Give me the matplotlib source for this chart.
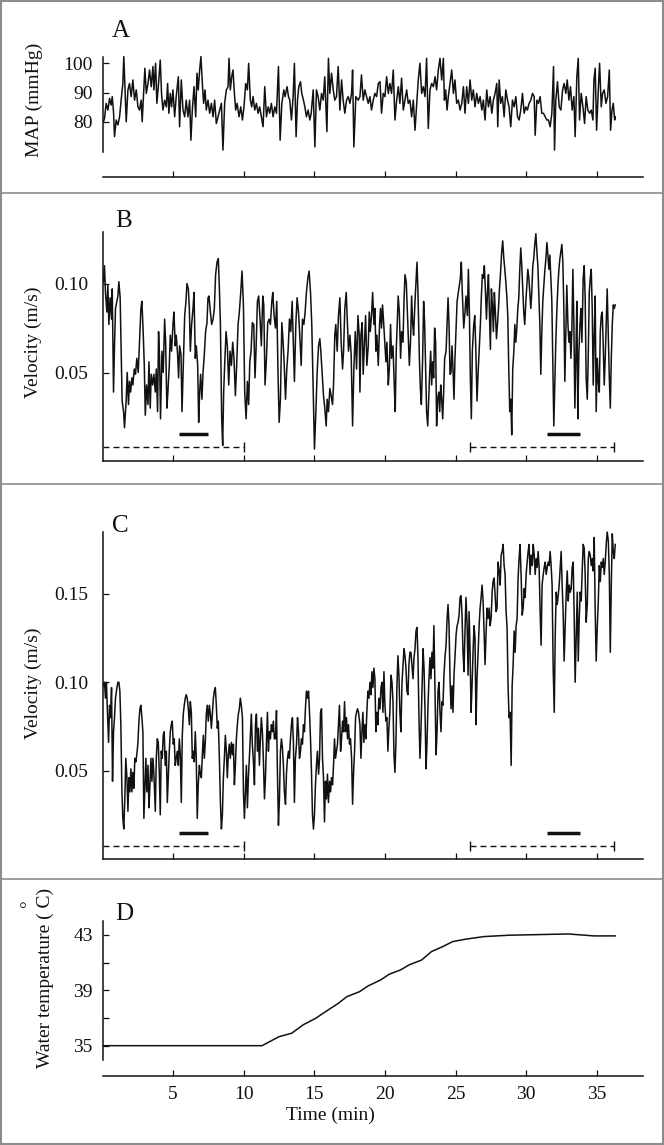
import matplotlib
matplotlib.use('Agg')
import matplotlib.pyplot as plt
from matplotlib.lines import Line2D
from matplotlib.patches import Rectangle

plt.rcParams['font.family'] = ['Liberation Serif', 'DejaVu Serif']

# ---- A: mean arterial pressure (mmHg) ----
map_time = [
    0.07, 0.14, 0.26, 0.38, 0.50, 0.61, 0.69, 0.78, 0.85, 0.97,
    1.09, 1.21, 1.32, 1.44, 1.51, 1.61, 1.68, 1.80, 1.91, 2.03,
    2.15, 2.27, 2.39, 2.51, 2.62, 2.74, 2.81, 2.91, 3.00, 3.10,
    3.22, 3.33, 3.45, 3.57, 3.64, 3.76, 3.85, 3.95, 4.09, 4.18,
    4.28, 4.40, 4.52, 4.61, 4.70, 4.80, 4.89, 4.99, 5.11, 5.22,
    5.37, 5.46, 5.58, 5.70, 5.82, 5.93, 6.05, 6.17, 6.26, 6.36,
    6.48, 6.60, 6.69, 6.78, 6.88, 6.97, 7.07, 7.16, 7.26, 7.35,
    7.47, 7.59, 7.71, 7.83, 7.94, 8.06, 8.18, 8.30, 8.42, 8.53,
    8.65, 8.77, 8.89, 8.96, 9.05, 9.15, 9.24, 9.34, 9.43, 9.53,
    9.67, 9.79, 9.91, 10.02, 10.14, 10.26, 10.35, 10.47, 10.57, 10.66,
    10.78, 10.90, 11.02, 11.13, 11.25, 11.37, 11.49, 11.61, 11.73, 11.84,
    11.96, 12.08, 12.20, 12.32, 12.46, 12.58, 12.70, 12.84, 12.93, 13.07,
    13.17, 13.26, 13.38, 13.50, 13.59, 13.71, 13.81, 13.90, 14.02, 14.11,
    14.23, 14.33, 14.44, 14.56, 14.68, 14.78, 14.92, 15.04, 15.15, 15.27,
    15.39, 15.51, 15.63, 15.74, 15.89, 16.00, 16.10, 16.22, 16.34, 16.45,
    16.57, 16.69, 16.81, 16.93, 17.04, 17.16, 17.28, 17.40, 17.52, 17.64,
    17.71, 17.80, 17.94, 18.11, 18.23,
    18.34, 18.46, 18.58, 18.70, 18.82, 18.94, 19.05, 19.17, 19.29, 19.41,
    19.53, 19.65, 19.76, 19.88, 20.00, 20.12, 20.24, 20.35, 20.47, 20.59,
    20.71, 20.83, 20.95, 21.06, 21.18, 21.30, 21.42, 21.54, 21.65, 21.77,
    21.89, 22.01, 22.13, 22.25, 22.36, 22.48, 22.60, 22.72, 22.84, 22.95,
    23.07, 23.19, 23.31, 23.43, 23.55, 23.66, 23.78, 23.90, 24.02, 24.14,
    24.21, 24.30, 24.40, 24.49, 24.61, 24.73, 24.85, 24.96, 25.08, 25.20,
    25.32, 25.44, 25.56, 25.67, 25.79, 25.91, 26.03, 26.15, 26.26, 26.38,
    26.50, 26.62, 26.74, 26.86, 26.97, 27.09, 27.21, 27.33, 27.45, 27.57,
    27.68, 27.80, 27.92, 27.99, 28.09, 28.20, 28.32, 28.44, 28.56, 28.68,
    28.79, 28.91, 29.03, 29.15, 29.27, 29.39, 29.50, 29.62, 29.74, 29.86,
    29.98, 30.09, 30.21, 30.33, 30.45, 30.57, 30.64, 30.76, 30.87, 30.99,
    31.11, 31.23, 31.35, 31.47, 31.58, 31.70, 31.82, 31.94, 32.01, 32.10,
    32.22, 32.34, 32.46, 32.58, 32.69, 32.81, 32.91, 33.03, 33.14, 33.26,
    33.38, 33.47, 33.59, 33.69, 33.78, 33.90, 34.02, 34.14, 34.25, 34.37,
    34.49, 34.61, 34.73, 34.80, 34.89, 34.99, 35.11, 35.20, 35.32, 35.41,
    35.53, 35.65, 35.77, 35.89, 35.98, 36.08, 36.17, 36.27, 36.31,
]
map_mmhg = [
    80.0, 81.1, 86.3, 84.0, 88.0, 85.7, 88.6, 83.4, 74.9, 80.6,
    78.9, 81.7, 87.4, 93.1, 102.3, 89.7, 80.0, 90.9, 93.1, 88.6,
    94.3, 87.4, 90.9, 85.1, 84.0, 87.4, 80.0, 89.7, 98.3, 89.7,
    93.1, 97.7, 92.0, 98.9, 90.9, 100.0, 86.3, 92.0, 101.1, 89.7,
    84.0, 87.4, 85.1, 93.1, 82.9, 89.7, 85.1, 90.9, 81.7, 88.6,
    95.4, 78.3, 94.3, 84.0, 81.7, 87.4, 81.7, 87.4, 73.7, 84.0,
    92.0, 81.7, 96.6, 90.9, 97.7, 102.3, 93.1, 86.3, 90.9, 84.0,
    87.4, 82.9, 86.3, 81.7, 87.4, 79.4, 81.7, 84.0, 86.3, 70.3,
    86.3, 90.9, 92.0, 101.7, 90.9, 95.4, 97.7, 89.7, 84.0, 86.3,
    81.7, 85.1, 80.6, 85.1, 93.1, 90.9, 100.0, 87.4, 85.1, 88.6,
    84.0, 86.3, 82.9, 85.1, 81.7, 78.3, 92.0, 81.7, 85.1, 82.9,
    86.3, 81.7, 85.1, 82.9, 98.9, 73.7, 86.3, 90.9, 88.6, 92.0,
    88.6, 87.4, 80.6, 88.6, 100.0, 74.9, 87.4, 92.0, 93.7, 89.7,
    87.4, 85.1, 81.7, 84.0, 80.6, 82.9, 90.9, 71.4, 90.9, 88.6,
    84.0, 89.7, 87.4, 95.4, 76.6, 101.7, 89.7, 96.6, 90.9, 87.4,
    88.6, 98.9, 84.0, 94.3, 87.4, 82.9, 87.4, 88.6, 86.3, 89.7,
    97.7, 71.4, 88.6, 87.4, 88.6,
    96.0, 87.4, 90.9, 88.6, 86.3, 88.6, 84.0, 87.4, 89.7, 88.6,
    93.1, 93.7, 82.9, 89.7, 88.6, 95.4, 89.7, 93.1, 89.7, 97.7,
    80.6, 87.4, 92.0, 86.3, 94.9, 84.0, 87.4, 90.9, 86.3, 87.4,
    81.7, 87.4, 77.1, 86.3, 94.3, 100.0, 89.7, 92.0, 88.6, 101.7,
    77.7, 90.9, 93.1, 92.0, 95.4, 90.9, 97.7, 101.7, 94.3, 101.7,
    87.4, 90.9, 84.0, 88.6, 93.1, 97.7, 89.7, 94.3, 86.3, 87.4,
    84.0, 86.3, 92.0, 82.9, 92.0, 86.3, 94.3, 87.4, 90.9, 85.1,
    89.7, 86.3, 88.6, 84.0, 87.4, 80.6, 90.9, 85.1, 88.6, 82.9,
    87.4, 89.7, 93.1, 78.3, 94.3, 86.3, 88.6, 81.7, 90.9, 87.4,
    85.1, 78.3, 87.4, 85.1, 88.6, 81.7, 80.6, 84.0, 89.7, 82.9,
    85.1, 84.0, 86.3, 87.4, 89.7, 88.6, 75.4, 87.4, 86.3, 88.6,
    82.9, 82.9, 81.7, 80.6, 80.6, 78.3, 82.9, 98.9, 70.3, 87.4,
    93.7, 85.1, 84.0, 90.9, 93.1, 89.7, 94.3, 87.4, 92.0, 84.0,
    88.6, 74.9, 95.4, 101.7, 80.6, 89.7, 85.1, 79.4, 88.6, 84.0,
    82.9, 84.0, 80.6, 94.3, 98.3, 77.1, 90.9, 100.0, 85.1, 89.7,
    90.9, 86.3, 88.6, 97.7, 77.1, 84.0, 86.3, 80.6, 81.7,
]

# ---- B: blood velocity, first recording (m/s) ----
vel_b_time = [
    0.07, 0.14, 0.21, 0.31, 0.38, 0.45, 0.54, 0.64, 0.69, 0.78,
    0.85, 0.92, 1.02, 1.09, 1.16, 1.25, 1.32, 1.39, 1.49, 1.56,
    1.68, 1.75, 1.84, 1.91, 1.99, 2.08, 2.15, 2.25, 2.34, 2.43,
    2.53, 2.62, 2.72, 2.79, 2.88, 2.96, 3.03, 3.12, 3.22, 3.29,
    3.38, 3.45, 3.55, 3.64, 3.74, 3.81, 3.90, 3.97, 4.04, 4.11,
    4.21, 4.30, 4.40, 4.47, 4.56, 4.63, 4.73, 4.80, 4.89, 4.99,
    5.06, 5.15, 5.22, 5.32, 5.39, 5.46, 5.56, 5.63, 5.72, 5.82,
    5.91, 5.98, 6.08, 6.15, 6.22, 6.31, 6.41, 6.48, 6.57, 6.64,
    6.74, 6.81, 6.88, 6.95, 7.04, 7.12, 7.21, 7.30, 7.40, 7.47,
    7.54, 7.64, 7.73, 7.83, 7.92, 8.01, 8.11, 8.20, 8.27, 8.35,
    8.44, 8.51, 8.58, 8.65, 8.75, 8.84, 8.94, 9.03, 9.13, 9.22,
    9.31, 9.41, 9.50, 9.60, 9.69, 9.79, 9.88, 9.98, 10.07, 10.17,
    10.26, 10.35, 10.43, 10.52, 10.61, 10.71, 10.80, 10.87, 10.97, 11.06,
    11.16, 11.25, 11.35, 11.42, 11.51, 11.61, 11.70, 11.80, 11.89, 11.99,
    12.06, 12.15, 12.25, 12.34, 12.43, 12.51, 12.60, 12.70, 12.79, 12.86,
    12.96, 13.05, 13.14, 13.24, 13.33, 13.43, 13.52, 13.59, 13.69, 13.78,
    13.88, 13.97, 14.07, 14.16, 14.26, 14.35, 14.44, 14.54, 14.63, 14.73,
    14.82, 14.92, 15.01, 15.11, 15.20, 15.30, 15.39, 15.46, 15.56, 15.65,
    15.74, 15.84, 15.91, 16.00, 16.10, 16.19, 16.29, 16.36, 16.45, 16.52,
    16.62, 16.71, 16.81, 16.90, 17.00, 17.07, 17.16, 17.26, 17.33, 17.42,
    17.52, 17.61, 17.71, 17.80, 17.90, 17.99, 18.09, 18.18,
    18.23, 18.30, 18.39, 18.46, 18.53, 18.63, 18.72, 18.82, 18.89, 18.96,
    19.05, 19.13, 19.22, 19.29, 19.36, 19.43, 19.53, 19.62, 19.69, 19.76,
    19.83, 19.91, 20.00, 20.07, 20.14, 20.24, 20.31, 20.40, 20.47, 20.57,
    20.66, 20.73, 20.80, 20.87, 20.94, 21.02, 21.11, 21.18, 21.28, 21.35,
    21.42, 21.51, 21.58, 21.65, 21.73, 21.82, 21.89, 21.96, 22.03, 22.13,
    22.20, 22.27, 22.34, 22.44, 22.51, 22.58, 22.67, 22.74, 22.81, 22.88,
    22.95, 23.03, 23.10, 23.17, 23.24, 23.31, 23.38, 23.45, 23.52, 23.59,
    23.66, 23.73, 23.81, 23.88, 23.95, 24.02, 24.09, 24.16, 24.23, 24.33,
    24.40, 24.47, 24.54, 24.61, 24.68, 24.75, 24.82, 24.89, 24.96, 25.04,
    25.11, 25.20, 25.27, 25.34, 25.41, 25.48, 25.58, 25.67, 25.74, 25.84,
    25.91, 25.98, 26.05, 26.12, 26.19, 26.29, 26.36, 26.43, 26.52, 26.60,
    26.67, 26.76, 26.83, 26.90, 26.97, 27.04, 27.12, 27.19, 27.26, 27.33,
    27.40, 27.47, 27.54, 27.61, 27.68, 27.75, 27.82, 27.90, 27.97, 28.04,
    28.11, 28.18, 28.27, 28.34, 28.42, 28.49, 28.56, 28.63, 28.70, 28.77,
    28.84, 28.91, 28.98, 29.05, 29.13, 29.20, 29.27, 29.34, 29.41, 29.48,
    29.55, 29.62, 29.69, 29.76, 29.83, 29.90, 29.98, 30.05, 30.12, 30.19,
    30.26, 30.33, 30.40, 30.47, 30.54, 30.61, 30.69, 30.76, 30.83, 30.90,
    30.97, 31.04, 31.11, 31.18, 31.25, 31.32, 31.40, 31.47, 31.54, 31.61,
    31.68, 31.75, 31.82, 31.89, 31.96, 32.03, 32.10, 32.17, 32.25, 32.32,
    32.39, 32.46, 32.53, 32.60, 32.67, 32.74, 32.81, 32.88, 32.96, 33.03,
    33.10, 33.17, 33.24, 33.31, 33.38, 33.45, 33.52, 33.59, 33.66, 33.73,
    33.81, 33.88, 33.95, 34.04, 34.11, 34.18, 34.25, 34.33, 34.40, 34.47,
    34.54, 34.61, 34.68, 34.75, 34.82, 34.89, 34.96, 35.04, 35.11, 35.18,
    35.25, 35.32, 35.39, 35.46, 35.53, 35.60, 35.67, 35.74, 35.82, 35.89,
    35.96, 36.03, 36.10, 36.17, 36.24, 36.31,
]
vel_b = [
    0.101, 0.110, 0.095, 0.084, 0.099, 0.077, 0.092, 0.080, 0.097, 0.039,
    0.065, 0.086, 0.090, 0.093, 0.101, 0.092, 0.062, 0.034, 0.028, 0.019,
    0.035, 0.050, 0.032, 0.045, 0.039, 0.047, 0.043, 0.052, 0.049, 0.058,
    0.050, 0.067, 0.086, 0.090, 0.073, 0.054, 0.026, 0.043, 0.032, 0.056,
    0.030, 0.049, 0.043, 0.049, 0.039, 0.052, 0.028, 0.073, 0.058, 0.024,
    0.062, 0.050, 0.080, 0.067, 0.030, 0.039, 0.054, 0.071, 0.062, 0.077,
    0.084, 0.065, 0.071, 0.060, 0.047, 0.065, 0.060, 0.028, 0.054, 0.082,
    0.090, 0.100, 0.097, 0.086, 0.062, 0.077, 0.086, 0.095, 0.058, 0.065,
    0.054, 0.022, 0.039, 0.049, 0.035, 0.050, 0.060, 0.073, 0.078, 0.092,
    0.093, 0.084, 0.077, 0.080, 0.086, 0.105, 0.112, 0.114, 0.099, 0.077,
    0.024, 0.009, 0.039, 0.054, 0.073, 0.065, 0.043, 0.062, 0.054, 0.067,
    0.058, 0.037, 0.054, 0.077, 0.084, 0.095, 0.107, 0.088, 0.039, 0.024,
    0.045, 0.032, 0.056, 0.062, 0.078, 0.077, 0.047, 0.062, 0.090, 0.093,
    0.080, 0.065, 0.093, 0.088, 0.043, 0.058, 0.078, 0.080, 0.077, 0.090,
    0.095, 0.082, 0.075, 0.090, 0.049, 0.022, 0.035, 0.078, 0.067, 0.056,
    0.035, 0.052, 0.062, 0.080, 0.073, 0.090, 0.065, 0.045, 0.077, 0.092,
    0.084, 0.071, 0.054, 0.080, 0.077, 0.084, 0.095, 0.103, 0.107, 0.095,
    0.077, 0.039, 0.007, 0.028, 0.050, 0.065, 0.069, 0.062, 0.049, 0.037,
    0.030, 0.020, 0.035, 0.028, 0.041, 0.037, 0.032, 0.043, 0.071, 0.077,
    0.062, 0.082, 0.092, 0.067, 0.052, 0.062, 0.086, 0.095, 0.080, 0.062,
    0.071, 0.060, 0.020, 0.052, 0.073, 0.052, 0.082, 0.071,
    0.039, 0.071, 0.078, 0.049, 0.062, 0.082, 0.054, 0.065, 0.084, 0.073,
    0.082, 0.095, 0.077, 0.086, 0.062, 0.071, 0.054, 0.077, 0.086, 0.075,
    0.088, 0.078, 0.065, 0.056, 0.067, 0.043, 0.052, 0.077, 0.058, 0.065,
    0.043, 0.028, 0.062, 0.077, 0.093, 0.084, 0.058, 0.073, 0.067, 0.090,
    0.105, 0.101, 0.086, 0.071, 0.054, 0.069, 0.093, 0.078, 0.071, 0.090,
    0.101, 0.112, 0.095, 0.058, 0.041, 0.032, 0.058, 0.090, 0.078, 0.054,
    0.028, 0.020, 0.035, 0.050, 0.062, 0.043, 0.056, 0.047, 0.075, 0.067,
    0.020, 0.035, 0.039, 0.028, 0.043, 0.035, 0.024, 0.039, 0.058, 0.062,
    0.077, 0.092, 0.077, 0.049, 0.050, 0.065, 0.052, 0.035, 0.058, 0.075,
    0.090, 0.095, 0.099, 0.103, 0.112, 0.095, 0.075, 0.084, 0.093, 0.082,
    0.108, 0.084, 0.047, 0.024, 0.062, 0.077, 0.082, 0.065, 0.034, 0.050,
    0.062, 0.077, 0.093, 0.105, 0.103, 0.110, 0.095, 0.080, 0.095, 0.105,
    0.084, 0.063, 0.097, 0.088, 0.073, 0.095, 0.084, 0.069, 0.077, 0.086,
    0.097, 0.105, 0.118, 0.124, 0.114, 0.108, 0.101, 0.093, 0.082, 0.052,
    0.028, 0.035, 0.015, 0.052, 0.062, 0.077, 0.067, 0.075, 0.086, 0.092,
    0.108, 0.120, 0.110, 0.097, 0.084, 0.077, 0.090, 0.099, 0.108, 0.103,
    0.095, 0.086, 0.095, 0.110, 0.114, 0.122, 0.128, 0.118, 0.110, 0.093,
    0.077, 0.049, 0.073, 0.090, 0.099, 0.107, 0.114, 0.123, 0.116, 0.108,
    0.116, 0.103, 0.090, 0.054, 0.020, 0.043, 0.067, 0.084, 0.099, 0.108,
    0.114, 0.118, 0.122, 0.112, 0.086, 0.045, 0.071, 0.099, 0.077, 0.067,
    0.073, 0.058, 0.075, 0.108, 0.077, 0.030, 0.058, 0.090, 0.024, 0.060,
    0.077, 0.086, 0.067, 0.103, 0.110, 0.092, 0.047, 0.035, 0.060, 0.095,
    0.103, 0.108, 0.086, 0.043, 0.071, 0.093, 0.028, 0.058, 0.045, 0.039,
    0.073, 0.082, 0.084, 0.065, 0.043, 0.058, 0.077, 0.097, 0.071, 0.047,
    0.030, 0.058, 0.077, 0.088, 0.086, 0.088,
]

# ---- C: blood velocity, second recording (m/s) ----
vel_c_time = [
    0.07, 0.14, 0.21, 0.28, 0.35, 0.43, 0.50, 0.57, 0.64, 0.71,
    0.78, 0.85, 0.92, 1.02, 1.09, 1.16, 1.23, 1.30, 1.37, 1.44,
    1.51, 1.58, 1.65, 1.73, 1.80, 1.87, 1.94, 2.01, 2.08, 2.15,
    2.22, 2.29, 2.36, 2.43, 2.51, 2.58, 2.65, 2.72, 2.79, 2.86,
    2.93, 3.00, 3.07, 3.14, 3.22, 3.29, 3.36, 3.43, 3.50, 3.57,
    3.64, 3.74, 3.81, 3.88, 3.95, 4.02, 4.09, 4.16, 4.23, 4.30,
    4.37, 4.44, 4.52, 4.59, 4.66, 4.73, 4.80, 4.87, 4.94, 5.01,
    5.08, 5.15, 5.22, 5.30, 5.37, 5.44, 5.51, 5.58, 5.65, 5.72,
    5.79, 5.86, 5.93, 6.00, 6.08, 6.15, 6.22, 6.29, 6.36, 6.43,
    6.50, 6.57, 6.64, 6.71, 6.78, 6.86, 6.93, 7.00, 7.07, 7.14,
    7.21, 7.28, 7.35, 7.42, 7.49, 7.57, 7.64, 7.71, 7.78, 7.85,
    7.92, 7.99, 8.06, 8.13, 8.20, 8.27, 8.35, 8.42, 8.49, 8.56,
    8.63, 8.70, 8.77, 8.84, 8.91, 8.98, 9.05, 9.13, 9.20, 9.27,
    9.34, 9.41, 9.48, 9.55, 9.62, 9.69, 9.76, 9.83, 9.91, 9.98,
    10.05, 10.12, 10.19, 10.26, 10.33, 10.40, 10.47, 10.54, 10.61, 10.69,
    10.76, 10.83, 10.90, 10.97, 11.04, 11.11, 11.18, 11.25, 11.32, 11.39,
    11.47, 11.54, 11.61, 11.68, 11.75, 11.82, 11.89, 11.96, 12.03, 12.10,
    12.17, 12.25, 12.32, 12.39, 12.46, 12.53, 12.60, 12.67, 12.74, 12.81,
    12.88, 12.96, 13.03, 13.10, 13.17, 13.24, 13.31, 13.38, 13.45, 13.52,
    13.59, 13.66, 13.74, 13.81, 13.88, 13.95, 14.02, 14.09, 14.16, 14.23,
    14.30, 14.37, 14.44, 14.52, 14.59, 14.66, 14.73, 14.80, 14.87, 14.94,
    15.01, 15.08, 15.15, 15.22, 15.30, 15.37, 15.44, 15.51, 15.58, 15.65,
    15.72, 15.79, 15.86, 15.93, 16.00, 16.08, 16.15, 16.22, 16.29, 16.36,
    16.43, 16.50, 16.57, 16.64, 16.71, 16.78, 16.86, 16.93, 17.00, 17.07,
    17.14, 17.21, 17.28, 17.35, 17.42, 17.49, 17.56, 17.64, 17.71, 17.78,
    17.85, 17.92, 17.99, 18.06, 18.13, 18.23,
    18.30, 18.37, 18.44, 18.51, 18.58, 18.65, 18.72, 18.79, 18.87, 18.94,
    19.01, 19.08, 19.15, 19.22, 19.29, 19.36, 19.43, 19.50, 19.57, 19.65,
    19.72, 19.79, 19.86, 19.93, 20.00, 20.07, 20.14, 20.21, 20.28, 20.35,
    20.43, 20.50, 20.57, 20.64, 20.71, 20.78, 20.85, 20.92, 20.99, 21.06,
    21.13, 21.21, 21.28, 21.35, 21.42, 21.49, 21.56, 21.63, 21.70, 21.77,
    21.84, 21.91, 21.99, 22.06, 22.13, 22.20, 22.27, 22.34, 22.41, 22.48,
    22.55, 22.62, 22.70, 22.77, 22.84, 22.91, 22.98, 23.05, 23.12, 23.19,
    23.26, 23.33, 23.40, 23.47, 23.55, 23.62, 23.69, 23.76, 23.83, 23.90,
    23.97, 24.04, 24.11, 24.18, 24.26, 24.33, 24.40, 24.47, 24.54, 24.61,
    24.68, 24.75, 24.82, 24.89, 24.96, 25.04, 25.11, 25.18, 25.25, 25.32,
    25.39, 25.46, 25.53, 25.60, 25.67, 25.74, 25.82, 25.89, 25.96, 26.03,
    26.10, 26.17, 26.24, 26.31, 26.38, 26.45, 26.52, 26.60, 26.67, 26.74,
    26.81, 26.88, 26.95, 27.02, 27.09, 27.16, 27.23, 27.30, 27.38, 27.45,
    27.52, 27.59, 27.66, 27.73, 27.80, 27.87, 27.94, 28.01, 28.09, 28.16,
    28.23, 28.30, 28.37, 28.44, 28.51, 28.58, 28.65, 28.72, 28.79, 28.86,
    28.94, 29.01, 29.08, 29.15, 29.22, 29.29, 29.36, 29.43, 29.50, 29.57,
    29.65, 29.72, 29.79, 29.86, 29.93, 30.00, 30.07, 30.14, 30.21, 30.28,
    30.35, 30.43, 30.50, 30.57, 30.64, 30.71, 30.78, 30.85, 30.92, 30.99,
    31.06, 31.13, 31.21, 31.28, 31.35, 31.42, 31.49, 31.56, 31.63, 31.70,
    31.77, 31.84, 31.91, 31.99, 32.06, 32.13, 32.20, 32.27, 32.34, 32.41,
    32.48, 32.55, 32.62, 32.69, 32.77, 32.84, 32.91, 32.98, 33.05, 33.12,
    33.19, 33.26, 33.33, 33.40, 33.47, 33.55, 33.62, 33.69, 33.76, 33.83,
    33.90, 33.97, 34.04, 34.11, 34.18, 34.25, 34.33, 34.40, 34.47, 34.54,
    34.61, 34.68, 34.75, 34.82, 34.89, 34.96, 35.04, 35.11, 35.18, 35.25,
    35.32, 35.39, 35.46, 35.53, 35.60, 35.67, 35.74, 35.82, 35.89, 35.96,
    36.03, 36.10, 36.17, 36.24, 36.31,
]
vel_c = [
    0.098, 0.100, 0.091, 0.100, 0.083, 0.066, 0.087, 0.080, 0.097, 0.044,
    0.072, 0.080, 0.091, 0.097, 0.100, 0.100, 0.095, 0.076, 0.040, 0.023,
    0.017, 0.034, 0.057, 0.046, 0.027, 0.046, 0.038, 0.051, 0.038, 0.049,
    0.040, 0.057, 0.055, 0.059, 0.066, 0.078, 0.085, 0.087, 0.080, 0.072,
    0.023, 0.040, 0.057, 0.038, 0.053, 0.029, 0.042, 0.057, 0.044, 0.057,
    0.048, 0.027, 0.057, 0.068, 0.066, 0.049, 0.025, 0.061, 0.057, 0.070,
    0.072, 0.053, 0.061, 0.032, 0.046, 0.061, 0.072, 0.076, 0.078, 0.065,
    0.068, 0.053, 0.057, 0.061, 0.053, 0.068, 0.059, 0.032, 0.070, 0.082,
    0.087, 0.091, 0.093, 0.091, 0.085, 0.076, 0.089, 0.083, 0.057, 0.061,
    0.055, 0.072, 0.057, 0.023, 0.042, 0.053, 0.048, 0.046, 0.059, 0.070,
    0.057, 0.066, 0.082, 0.087, 0.078, 0.087, 0.082, 0.074, 0.082, 0.091,
    0.095, 0.097, 0.087, 0.074, 0.078, 0.059, 0.032, 0.017, 0.025, 0.046,
    0.057, 0.070, 0.061, 0.046, 0.059, 0.065, 0.057, 0.066, 0.059, 0.065,
    0.042, 0.053, 0.068, 0.076, 0.082, 0.085, 0.091, 0.087, 0.080, 0.038,
    0.023, 0.038, 0.053, 0.029, 0.046, 0.057, 0.070, 0.082, 0.065, 0.055,
    0.042, 0.076, 0.082, 0.061, 0.074, 0.053, 0.068, 0.080, 0.072, 0.057,
    0.034, 0.046, 0.066, 0.083, 0.061, 0.072, 0.068, 0.076, 0.072, 0.078,
    0.068, 0.068, 0.084, 0.048, 0.019, 0.034, 0.061, 0.068, 0.063, 0.053,
    0.038, 0.031, 0.049, 0.057, 0.061, 0.057, 0.068, 0.076, 0.080, 0.066,
    0.032, 0.057, 0.065, 0.080, 0.072, 0.057, 0.061, 0.068, 0.065, 0.076,
    0.072, 0.085, 0.095, 0.091, 0.095, 0.083, 0.068, 0.049, 0.025, 0.017,
    0.025, 0.042, 0.053, 0.061, 0.048, 0.057, 0.083, 0.085, 0.057, 0.046,
    0.021, 0.044, 0.034, 0.048, 0.032, 0.044, 0.038, 0.046, 0.042, 0.053,
    0.068, 0.057, 0.061, 0.065, 0.076, 0.087, 0.061, 0.068, 0.078, 0.072,
    0.089, 0.072, 0.080, 0.068, 0.076, 0.065, 0.068, 0.057, 0.031, 0.049,
    0.061, 0.080, 0.083, 0.085, 0.083, 0.076,
    0.057, 0.072, 0.083, 0.066, 0.076, 0.068, 0.083, 0.095, 0.091, 0.100,
    0.093, 0.106, 0.097, 0.108, 0.102, 0.072, 0.083, 0.076, 0.091, 0.085,
    0.097, 0.100, 0.083, 0.106, 0.087, 0.078, 0.080, 0.061, 0.074, 0.083,
    0.104, 0.100, 0.089, 0.059, 0.049, 0.066, 0.098, 0.115, 0.104, 0.083,
    0.072, 0.100, 0.110, 0.119, 0.115, 0.108, 0.095, 0.093, 0.110, 0.117,
    0.117, 0.110, 0.102, 0.114, 0.119, 0.129, 0.131, 0.114, 0.080, 0.057,
    0.072, 0.095, 0.119, 0.108, 0.083, 0.051, 0.066, 0.087, 0.102, 0.114,
    0.102, 0.117, 0.108, 0.132, 0.095, 0.059, 0.072, 0.095, 0.100, 0.083,
    0.072, 0.089, 0.087, 0.104, 0.115, 0.121, 0.136, 0.144, 0.132, 0.102,
    0.085, 0.098, 0.083, 0.104, 0.114, 0.127, 0.132, 0.134, 0.138, 0.148,
    0.149, 0.138, 0.117, 0.106, 0.129, 0.148, 0.132, 0.104, 0.140, 0.117,
    0.083, 0.098, 0.117, 0.132, 0.125, 0.076, 0.102, 0.117, 0.132, 0.142,
    0.148, 0.155, 0.146, 0.129, 0.110, 0.127, 0.142, 0.136, 0.142, 0.132,
    0.136, 0.151, 0.157, 0.159, 0.149, 0.140, 0.142, 0.168, 0.163, 0.155,
    0.172, 0.174, 0.178, 0.166, 0.161, 0.140, 0.131, 0.098, 0.080, 0.083,
    0.053, 0.098, 0.110, 0.129, 0.117, 0.132, 0.136, 0.159, 0.170, 0.178,
    0.159, 0.138, 0.142, 0.153, 0.148, 0.161, 0.168, 0.174, 0.178, 0.161,
    0.172, 0.166, 0.178, 0.172, 0.161, 0.170, 0.165, 0.174, 0.165, 0.140,
    0.121, 0.155, 0.161, 0.165, 0.168, 0.161, 0.165, 0.168, 0.166, 0.174,
    0.166, 0.155, 0.110, 0.083, 0.127, 0.151, 0.144, 0.149, 0.155, 0.165,
    0.174, 0.155, 0.140, 0.112, 0.132, 0.151, 0.163, 0.146, 0.155, 0.151,
    0.153, 0.165, 0.168, 0.138, 0.100, 0.127, 0.151, 0.112, 0.136, 0.151,
    0.146, 0.163, 0.178, 0.176, 0.161, 0.134, 0.144, 0.170, 0.174, 0.172,
    0.166, 0.170, 0.163, 0.182, 0.140, 0.112, 0.132, 0.146, 0.166, 0.157,
    0.168, 0.165, 0.170, 0.161, 0.168, 0.178, 0.185, 0.180, 0.161, 0.117,
    0.155, 0.184, 0.174, 0.170, 0.178,
]

# ---- D: water temperature (deg C) ----
temp_time = [0.0, 5.0, 11.3, 12.5, 13.4, 14.2, 15.1, 15.8, 16.7, 17.3, 18.2, 18.8,
             19.7, 20.3, 21.1, 21.7, 22.6, 23.3, 24.1, 24.8, 25.7, 27.0, 28.8,
             33.0, 34.8, 36.3]
temp_c = [35.0, 35.0, 35.0, 35.65, 35.9, 36.5, 36.98, 37.46, 38.06, 38.54, 38.9, 39.31,
          39.75, 40.16, 40.47, 40.83, 41.19, 41.8, 42.16, 42.52, 42.69, 42.88, 42.98,
          43.07, 42.93, 42.93]

# analysis windows (min): dashed = averaging period, bar = sample period
control_window = [0.0, 10.0]
heat_window = [26.0, 36.2]
control_bar = [5.4, 7.5]
heat_bar = [31.5, 33.8]

W, H = 664, 1145
fig = plt.figure(figsize=(W / 100, H / 100), dpi=100)
INK = '#111111'


def make_axes(top, bottom):
    return fig.add_axes([102.5 / W, 1 - bottom / H, 540 / W, (bottom - top) / H])


def ftext(x, y, s, **kw):
    fig.text(x / W, 1 - y / H, s, color=INK, **kw)


def style(ax, ylim, yticks, ylabels, spine, pad, xlabels=False):
    ax.set_xlim(0, 38.24)
    ax.set_ylim(*ylim)
    ax.patch.set_visible(False)
    ax.spines['top'].set_visible(False)
    ax.spines['right'].set_visible(False)
    ax.spines['left'].set_bounds(*spine)
    for s in ('left', 'bottom'):
        ax.spines[s].set_linewidth(1.1)
        ax.spines[s].set_color(INK)
    ax.set_xticks(range(5, 40, 5))
    ax.set_yticks(yticks)
    ax.set_yticklabels(ylabels)
    ax.tick_params(direction='in', length=4, width=0.9, labelsize=14, colors=INK)
    ax.tick_params(axis='y', pad=pad)
    ax.tick_params(axis='x', pad=7, labelbottom=xlabels)


def windows(ax, y_dash, y_bar):
    dash = (0, (4.3, 2.9))
    for win in (control_window, heat_window):
        ax.plot(win, [y_dash, y_dash], ls=dash, lw=1.0, color=INK)
    ax.plot([control_window[1]] + heat_window, [y_dash] * 3, ls='none',
            marker='|', ms=7, mew=1.0, color=INK)
    for bar in (control_bar, heat_bar):
        ax.plot(bar, [y_bar, y_bar], lw=2.5, color=INK, solid_capstyle='butt')


# A
axA = make_axes(50, 176.7)
axA.plot(map_time, map_mmhg, lw=1.1, color=INK)
style(axA, (61.2, 104.55), [80, 90, 100], ['80', '90', '100'], (69.7, 102.3), 7)

# B
axB = make_axes(225, 461.5)
axB.plot(vel_b_time, vel_b, lw=1.1, color=INK)
windows(axB, 0.0083, 0.0154)
style(axB, (0, 0.1329), [0.05, 0.10], ['0.05', '0.10'], (0, 0.129), 10)

# C
axC = make_axes(525, 859)
axC.plot(vel_c_time, vel_c, lw=1.1, color=INK)
windows(axC, 0.0075, 0.0149)
style(axC, (0, 0.189), [0.05, 0.10, 0.15], ['0.05', '0.10', '0.15'], (0, 0.185), 10)

# D
axD = make_axes(915, 1076)
axD.plot(temp_time, temp_c, lw=1.1, color=INK)
style(axD, (32.81, 44.44), [35, 39, 43], ['35', '39', '43'], (34, 44), 7, xlabels=True)
axD.set_yticks([37, 41], minor=True)
axD.tick_params(axis='y', which='minor', direction='in', length=4, width=0.9)

# panel letters and labels
for x, y, s in [(112, 36.7, 'A'), (115, 226.7, 'B'), (112, 531.7, 'C'), (115, 920, 'D')]:
    ftext(x, y, s, fontsize=18, ha='left', va='baseline')
ftext(34, 100, 'MAP (mmHg)', fontsize=14, rotation=90, ha='center', va='center')
ftext(33, 342, 'Velocity (m/s)', fontsize=14, rotation=90, ha='center', va='center')
ftext(33, 683, 'Velocity (m/s)', fontsize=14, rotation=90, ha='center', va='center')
ftext(45, 978, 'Water temperature ( C)', fontsize=14, rotation=90, ha='center', va='center')
ftext(29, 904, '°', fontsize=14, rotation=90, ha='center', va='center')
ftext(330, 1115, 'Time (min)', fontsize=14, ha='center', va='center')

# gray frame and panel separators
fig.add_artist(Rectangle((0.001, 0.001), 0.998, 0.998, transform=fig.transFigure,
                         fill=False, ec='#8c8c8c', lw=1.5))
for y in (192.5, 483.5, 878.5):
    fig.add_artist(Line2D([0, 1], [1 - y / H, 1 - y / H], transform=fig.transFigure,
                          color='#8c8c8c', lw=1.2))

fig.savefig('out.png', dpi=100)
